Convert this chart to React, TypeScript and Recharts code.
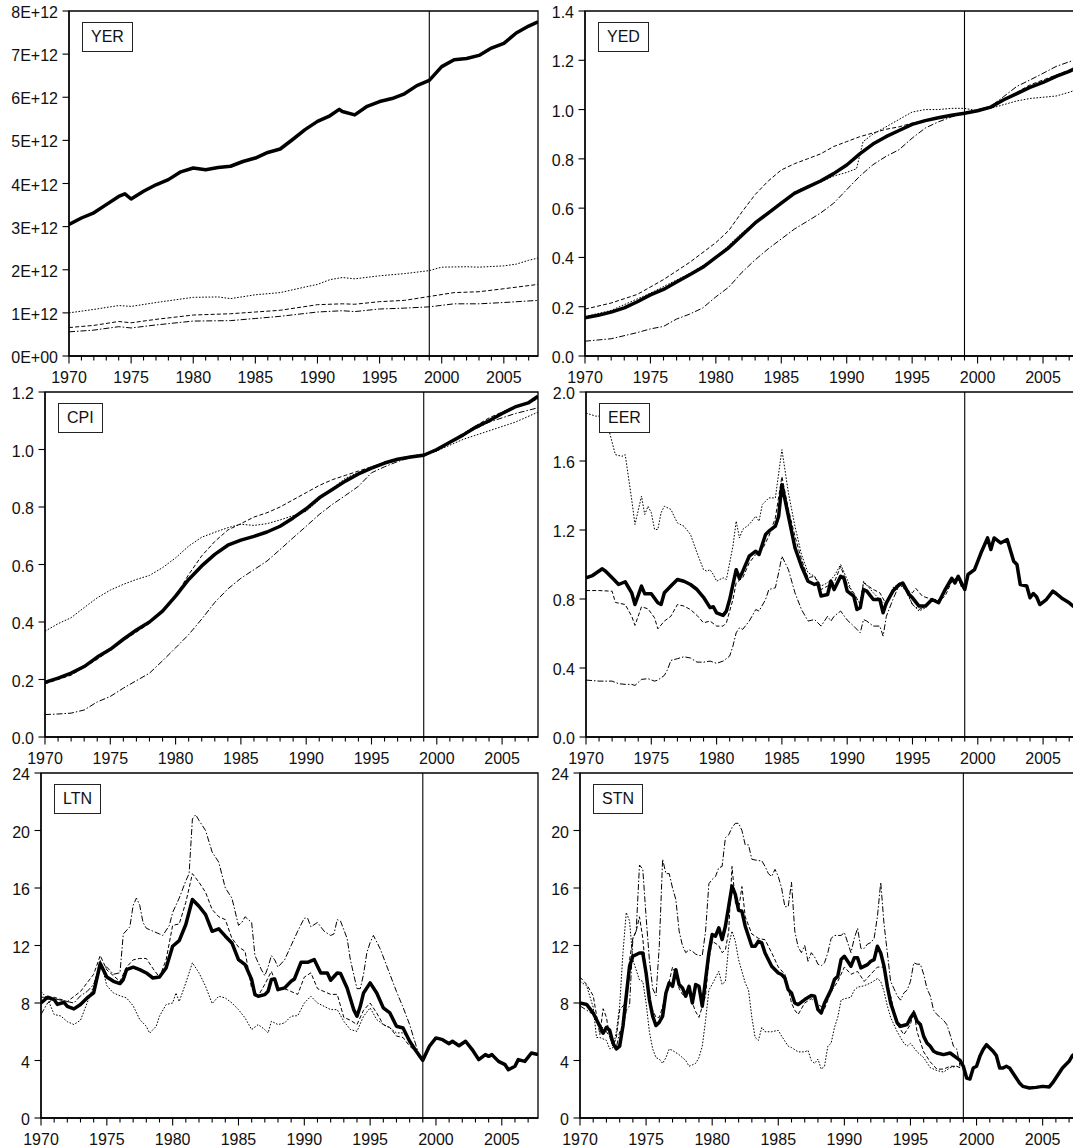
import React from "react";
import { LineChart, Line, XAxis, YAxis, ReferenceLine, ReferenceArea } from "recharts";

type Pt = [number, number];

const FONT = "'Liberation Sans', Arial, Helvetica, sans-serif";
const YEAR_TICKS = [
  1970, 1971, 1972, 1973, 1974, 1975, 1976, 1977, 1978, 1979, 1980, 1981, 1982, 1983, 1984, 1985, 1986, 1987, 1988,
  1989, 1990, 1991, 1992, 1993, 1994, 1995, 1996, 1997, 1998, 1999, 2000, 2001, 2002, 2003, 2004, 2005, 2006, 2007,
];
const X_START = 1970;
const X_END = 2007.75;
const BREAK_YEAR = 1999;

// ---------- YER (real GDP) ----------
const YER_TICKS = [0, 1e12, 2e12, 3e12, 4e12, 5e12, 6e12, 7e12, 8e12];
const YER_EA: Pt[] = [
  [1970, 3.05e12], [1971, 3.2e12], [1972, 3.32e12], [1973, 3.51e12], [1974, 3.7e12], [1974.5, 3.76e12], [1975, 3.64e12],
  [1976, 3.82e12], [1977, 3.97e12], [1978, 4.09e12], [1979, 4.27e12], [1980, 4.36e12], [1981, 4.32e12], [1982, 4.37e12],
  [1983, 4.4e12], [1984, 4.51e12], [1985, 4.59e12], [1986, 4.72e12], [1987, 4.8e12], [1988, 5.02e12], [1989, 5.25e12],
  [1990, 5.44e12], [1991, 5.57e12], [1991.75, 5.72e12], [1992, 5.67e12], [1993, 5.59e12], [1994, 5.79e12], [1995, 5.9e12],
  [1996, 5.97e12], [1997, 6.08e12], [1998, 6.27e12], [1999, 6.39e12], [2000, 6.71e12], [2001, 6.87e12], [2002, 6.9e12],
  [2003, 6.97e12], [2004, 7.14e12], [2005, 7.25e12], [2006, 7.49e12], [2007, 7.65e12], [2007.75, 7.75e12],
];
const YER_A: Pt[] = [
  [1970, 1.0e12], [1972, 1.08e12], [1974, 1.17e12], [1975, 1.15e12], [1977, 1.24e12], [1980, 1.36e12], [1982, 1.37e12],
  [1983, 1.33e12], [1985, 1.42e12], [1987, 1.47e12], [1989, 1.6e12], [1990, 1.66e12], [1991, 1.77e12], [1992, 1.82e12],
  [1993, 1.79e12], [1995, 1.86e12], [1997, 1.91e12], [1999, 1.98e12], [2000, 2.06e12], [2002, 2.07e12], [2003, 2.06e12],
  [2005, 2.09e12], [2006, 2.13e12], [2007, 2.22e12], [2007.75, 2.27e12],
];
const YER_B: Pt[] = [
  [1970, 0.66e12], [1972, 0.71e12], [1974, 0.8e12], [1975, 0.77e12], [1977, 0.85e12], [1980, 0.95e12], [1983, 0.98e12],
  [1985, 1.02e12], [1987, 1.06e12], [1990, 1.19e12], [1992, 1.21e12], [1993, 1.2e12], [1995, 1.26e12], [1997, 1.29e12],
  [1999, 1.38e12], [2001, 1.47e12], [2003, 1.49e12], [2005, 1.56e12], [2007.75, 1.66e12],
];
const YER_C: Pt[] = [
  [1970, 0.56e12], [1972, 0.6e12], [1974, 0.68e12], [1975, 0.65e12], [1977, 0.72e12], [1980, 0.81e12], [1983, 0.82e12],
  [1985, 0.87e12], [1987, 0.92e12], [1990, 1.02e12], [1992, 1.05e12], [1993, 1.03e12], [1995, 1.09e12], [1997, 1.11e12],
  [1999, 1.14e12], [2001, 1.21e12], [2003, 1.21e12], [2005, 1.24e12], [2007.75, 1.29e12],
];

// ---------- YED (GDP deflator) ----------
const YED_TICKS = [0, 0.2, 0.4, 0.6, 0.8, 1.0, 1.2, 1.4];
const YED_EA: Pt[] = [
  [1970, 0.155], [1971, 0.165], [1972, 0.178], [1973, 0.195], [1974, 0.22], [1975, 0.248], [1976, 0.27], [1977, 0.3],
  [1978, 0.33], [1979, 0.36], [1980, 0.4], [1981, 0.44], [1982, 0.49], [1983, 0.54], [1984, 0.58], [1985, 0.62],
  [1986, 0.66], [1987, 0.685], [1988, 0.71], [1989, 0.74], [1990, 0.775], [1991, 0.82], [1992, 0.86], [1993, 0.89],
  [1994, 0.915], [1995, 0.94], [1996, 0.955], [1997, 0.967], [1998, 0.977], [1999, 0.985], [2000, 0.995], [2001, 1.01],
  [2002, 1.04], [2003, 1.065], [2004, 1.09], [2005, 1.11], [2006, 1.135], [2007, 1.155], [2007.75, 1.175],
];
const YED_A: Pt[] = [
  [1970, 0.16], [1972, 0.185], [1975, 0.255], [1978, 0.335], [1980, 0.4], [1982, 0.5], [1984, 0.585], [1985, 0.625],
  [1986, 0.665], [1987, 0.69], [1988, 0.705], [1989, 0.73], [1990, 0.745], [1990.75, 0.76], [1991.25, 0.87], [1992, 0.9],
  [1993, 0.93], [1994, 0.96], [1995, 0.99], [1996, 1.0], [1997, 1.0], [1998, 1.005], [1999, 1.005], [2000, 0.995],
  [2001, 1.005], [2002, 1.02], [2003, 1.035], [2004, 1.045], [2005, 1.05], [2006, 1.055], [2007, 1.07], [2007.75, 1.085],
];
const YED_B: Pt[] = [
  [1970, 0.19], [1972, 0.215], [1974, 0.25], [1976, 0.31], [1978, 0.38], [1980, 0.46], [1981, 0.51], [1982, 0.585],
  [1983, 0.655], [1984, 0.71], [1985, 0.755], [1986, 0.78], [1987, 0.8], [1988, 0.82], [1989, 0.85], [1990, 0.87],
  [1991, 0.89], [1992, 0.905], [1993, 0.92], [1994, 0.93], [1995, 0.945], [1996, 0.955], [1997, 0.965], [1998, 0.975],
  [1999, 0.985], [2000, 0.995], [2001, 1.01], [2002, 1.04], [2003, 1.07], [2004, 1.1], [2005, 1.12], [2006, 1.14],
  [2007, 1.16], [2007.75, 1.18],
];
const YED_C: Pt[] = [
  [1970, 0.06], [1972, 0.07], [1974, 0.095], [1975, 0.11], [1976, 0.12], [1977, 0.15], [1978, 0.17], [1979, 0.195],
  [1980, 0.24], [1981, 0.28], [1982, 0.34], [1983, 0.39], [1984, 0.435], [1985, 0.475], [1986, 0.515], [1987, 0.547],
  [1988, 0.58], [1989, 0.62], [1990, 0.675], [1991, 0.73], [1992, 0.776], [1993, 0.81], [1994, 0.837], [1995, 0.884],
  [1996, 0.925], [1997, 0.95], [1998, 0.97], [1999, 0.983], [2000, 1.0], [2001, 1.013], [2002, 1.053], [2003, 1.094],
  [2004, 1.12], [2005, 1.147], [2006, 1.175], [2007.75, 1.208],
];

// ---------- CPI ----------
const CPI_TICKS = [0, 0.2, 0.4, 0.6, 0.8, 1.0, 1.2];
const CPI_EA: Pt[] = [
  [1970, 0.19], [1971, 0.205], [1972, 0.222], [1973, 0.245], [1974, 0.278], [1975, 0.305], [1976, 0.34], [1977, 0.372],
  [1978, 0.4], [1979, 0.438], [1980, 0.49], [1981, 0.548], [1982, 0.595], [1983, 0.635], [1984, 0.667], [1985, 0.685],
  [1986, 0.698], [1987, 0.713], [1988, 0.733], [1989, 0.762], [1990, 0.794], [1991, 0.832], [1992, 0.861], [1993, 0.89],
  [1994, 0.915], [1995, 0.935], [1996, 0.953], [1997, 0.966], [1998, 0.974], [1999, 0.98], [2000, 1.0], [2001, 1.025],
  [2002, 1.05], [2003, 1.078], [2004, 1.1], [2005, 1.125], [2006, 1.148], [2007, 1.162], [2007.75, 1.185],
];
const CPI_A: Pt[] = [
  [1970, 0.368], [1971, 0.394], [1972, 0.415], [1973, 0.45], [1974, 0.484], [1975, 0.511], [1976, 0.531], [1977, 0.548],
  [1978, 0.562], [1979, 0.589], [1980, 0.623], [1981, 0.664], [1982, 0.695], [1983, 0.712], [1984, 0.728], [1985, 0.74],
  [1986, 0.736], [1987, 0.742], [1988, 0.755], [1989, 0.77], [1990, 0.785], [1991, 0.825], [1992, 0.865], [1993, 0.9],
  [1994, 0.92], [1995, 0.935], [1996, 0.955], [1997, 0.968], [1998, 0.978], [1999, 0.985], [2000, 0.995], [2002, 1.035],
  [2004, 1.065], [2006, 1.095], [2007.75, 1.13],
];
const CPI_B: Pt[] = [
  [1970, 0.185], [1972, 0.215], [1974, 0.27], [1976, 0.335], [1978, 0.395], [1980, 0.49], [1981, 0.565], [1982, 0.63],
  [1983, 0.68], [1984, 0.72], [1985, 0.742], [1986, 0.765], [1987, 0.78], [1988, 0.8], [1989, 0.825], [1990, 0.85],
  [1991, 0.875], [1992, 0.895], [1993, 0.91], [1994, 0.925], [1995, 0.94], [1996, 0.955], [1997, 0.965], [1998, 0.975],
  [1999, 0.98], [2000, 0.995], [2002, 1.055], [2004, 1.11], [2006, 1.15], [2007.75, 1.175],
];
const CPI_C: Pt[] = [
  [1970, 0.078], [1971, 0.08], [1972, 0.083], [1973, 0.094], [1974, 0.122], [1975, 0.141], [1976, 0.17], [1977, 0.196],
  [1978, 0.222], [1979, 0.265], [1980, 0.31], [1981, 0.356], [1982, 0.41], [1983, 0.468], [1984, 0.515], [1985, 0.552],
  [1986, 0.582], [1987, 0.612], [1988, 0.652], [1989, 0.693], [1990, 0.733], [1991, 0.774], [1992, 0.809], [1993, 0.84],
  [1994, 0.872], [1995, 0.919], [1996, 0.94], [1997, 0.958], [1998, 0.972], [1999, 0.98], [2000, 0.995], [2002, 1.05],
  [2004, 1.095], [2006, 1.125], [2007.75, 1.145],
];

// ---------- EER (effective exchange rate) ----------
const EER_TICKS = [0, 0.4, 0.8, 1.2, 1.6, 2.0];
const EER_EA: Pt[] = [
  [1970, 0.923], [1970.5, 0.936], [1971.25, 0.975], [1971.5, 0.961], [1972, 0.923], [1972.5, 0.884], [1973, 0.9],
  [1973.5, 0.836], [1973.75, 0.768], [1974.25, 0.875], [1974.5, 0.83], [1975, 0.83], [1975.5, 0.778], [1975.75, 0.768],
  [1976, 0.836], [1976.5, 0.875], [1977, 0.913], [1977.5, 0.903], [1978, 0.884], [1978.5, 0.855], [1979, 0.81],
  [1979.5, 0.75], [1979.75, 0.755], [1980, 0.72], [1980.5, 0.705], [1980.75, 0.73], [1981, 0.797], [1981.5, 0.97],
  [1981.75, 0.92], [1982, 0.96], [1982.5, 1.048], [1983, 1.077], [1983.25, 1.058], [1983.75, 1.174], [1984, 1.193],
  [1984.5, 1.222], [1984.75, 1.28], [1985, 1.463], [1985.5, 1.28], [1986, 1.097], [1986.5, 0.99], [1987, 0.903],
  [1987.5, 0.884], [1987.75, 0.893], [1988, 0.817], [1988.5, 0.826], [1988.75, 0.903], [1989, 0.855], [1989.5, 0.932],
  [1989.75, 0.92], [1990, 0.846], [1990.5, 0.817], [1990.75, 0.739], [1991, 0.749], [1991.25, 0.855], [1991.5, 0.846],
  [1992, 0.797], [1992.5, 0.797], [1992.75, 0.72], [1993, 0.778], [1993.5, 0.846], [1994, 0.884], [1994.25, 0.893],
  [1994.75, 0.826], [1995, 0.807], [1995.5, 0.759], [1996, 0.759], [1996.5, 0.797], [1997, 0.778], [1997.5, 0.855],
  [1998, 0.92], [1998.25, 0.893], [1998.5, 0.932], [1999, 0.855], [1999.25, 0.942], [1999.75, 0.97], [2000.25, 1.068],
  [2000.75, 1.154], [2001, 1.087], [2001.25, 1.154], [2001.75, 1.125], [2002.25, 1.145], [2002.75, 1.019], [2003, 1.0],
  [2003.25, 0.884], [2003.75, 0.875], [2004, 0.807], [2004.25, 0.832], [2004.5, 0.813], [2004.75, 0.768],
  [2005.25, 0.797], [2005.75, 0.846], [2006, 0.832], [2006.5, 0.801], [2007, 0.778], [2007.75, 0.73],
];
const EER_A: Pt[] = [
  [1970, 1.878], [1970.75, 1.86], [1971.25, 1.86], [1971.75, 1.78], [1972.25, 1.637], [1972.75, 1.627], [1973, 1.637],
  [1973.5, 1.376], [1973.75, 1.232], [1974.25, 1.396], [1974.5, 1.29], [1974.75, 1.338], [1975, 1.3], [1975.25, 1.203],
  [1975.5, 1.203], [1975.75, 1.3], [1976, 1.338], [1976.5, 1.319], [1977, 1.241], [1977.5, 1.222], [1978, 1.174],
  [1978.5, 1.068], [1979, 0.97], [1979.25, 0.961], [1979.5, 0.97], [1979.75, 0.942], [1980, 0.903], [1980.5, 0.923],
  [1980.75, 0.913], [1981.25, 1.106], [1981.5, 1.251], [1981.75, 1.154], [1982, 1.203], [1982.5, 1.232], [1983, 1.28],
  [1983.25, 1.251], [1983.5, 1.348], [1984, 1.386], [1984.5, 1.386], [1985, 1.666], [1985.5, 1.415], [1986, 1.222],
  [1986.5, 1.058], [1987, 0.952], [1987.5, 0.932], [1988, 0.875], [1988.5, 0.894], [1989, 0.932], [1989.5, 1.0],
  [1990, 0.913], [1990.5, 0.817], [1991, 0.778], [1991.25, 0.903], [1992, 0.836], [1992.5, 0.797], [1993, 0.759],
  [1993.5, 0.865], [1994, 0.893], [1994.5, 0.855], [1995, 0.768], [1995.5, 0.73], [1996, 0.749], [1996.5, 0.797],
  [1997, 0.778], [1997.5, 0.84], [1998, 0.9], [1998.5, 0.92], [1998.75, 0.88],
];
const EER_B: Pt[] = [
  [1970, 0.849], [1971, 0.849], [1972, 0.845], [1972.25, 0.78], [1973, 0.768], [1973.5, 0.7], [1973.75, 0.647],
  [1974.25, 0.755], [1974.75, 0.743], [1975.25, 0.691], [1975.5, 0.627], [1976, 0.672], [1976.5, 0.7], [1977, 0.768],
  [1977.5, 0.759], [1978, 0.739], [1978.5, 0.705], [1979, 0.662], [1979.5, 0.672], [1980, 0.643], [1980.5, 0.643],
  [1980.75, 0.662], [1981.25, 0.797], [1981.5, 0.894], [1982, 0.923], [1982.5, 1.01], [1983, 1.058], [1983.5, 1.087],
  [1984, 1.164], [1984.5, 1.27], [1985, 1.51], [1985.5, 1.319], [1986, 1.164], [1986.5, 1.029], [1987, 0.923],
  [1987.5, 0.932], [1988, 0.855], [1988.5, 0.875], [1989, 0.894], [1989.5, 0.99], [1990, 0.884], [1990.5, 0.836],
  [1991, 0.768], [1991.25, 0.894], [1992, 0.855], [1992.5, 0.836], [1993, 0.768], [1993.5, 0.855], [1994, 0.894],
  [1994.5, 0.855], [1995, 0.836], [1995.25, 0.862], [1995.75, 0.817], [1996.5, 0.797], [1997, 0.788], [1997.5, 0.817],
  [1998, 0.9], [1998.5, 0.925], [1998.75, 0.87],
];
const EER_C: Pt[] = [
  [1970, 0.33], [1971, 0.324], [1972, 0.324], [1972.5, 0.309], [1973, 0.305], [1973.5, 0.305], [1973.75, 0.299],
  [1974.25, 0.334], [1974.75, 0.338], [1975.25, 0.324], [1975.5, 0.33], [1976, 0.357], [1976.25, 0.392], [1976.5, 0.444],
  [1977, 0.454], [1977.5, 0.465], [1978, 0.458], [1978.5, 0.434], [1979, 0.434], [1979.5, 0.44], [1980, 0.427],
  [1980.5, 0.44], [1981, 0.469], [1981.25, 0.527], [1981.5, 0.604], [1981.75, 0.633], [1982, 0.624], [1982.5, 0.672],
  [1983, 0.739], [1983.25, 0.73], [1983.75, 0.797], [1984, 0.855], [1984.5, 0.865], [1984.75, 0.952], [1985, 1.048],
  [1985.5, 0.97], [1986, 0.836], [1986.5, 0.739], [1987, 0.672], [1987.5, 0.681], [1988, 0.643], [1988.5, 0.7],
  [1988.75, 0.672], [1989, 0.7], [1989.5, 0.73], [1990, 0.678], [1990.5, 0.643], [1991, 0.604], [1991.25, 0.681],
  [1991.5, 0.672], [1992, 0.643], [1992.5, 0.643], [1992.75, 0.585], [1993, 0.7], [1993.5, 0.797], [1994, 0.884],
  [1994.5, 0.846], [1995, 0.768], [1995.5, 0.739], [1996, 0.759], [1996.5, 0.797], [1997, 0.797], [1997.5, 0.84],
  [1998, 0.91], [1998.5, 0.92], [1998.75, 0.87],
];

// ---------- LTN (long-term interest rate) ----------
const RATE_TICKS = [0, 4, 8, 12, 16, 20, 24];
const LTN_EA: Pt[] = [
  [1970, 8.0], [1970.5, 8.4], [1971, 8.24], [1971.25, 7.9], [1971.75, 8.05], [1972, 7.77], [1972.5, 7.59], [1973, 7.9],
  [1973.5, 8.35], [1974, 8.7], [1974.5, 10.74], [1975, 9.81], [1975.5, 9.51], [1976, 9.35], [1976.25, 9.63],
  [1976.5, 10.32], [1977, 10.49], [1977.5, 10.32], [1978, 10.09], [1978.5, 9.74], [1979, 9.81], [1979.5, 10.44],
  [1980, 11.95], [1980.5, 12.34], [1981, 13.46], [1981.5, 15.2], [1982, 14.73], [1982.5, 14.15], [1983, 12.99],
  [1983.5, 13.16], [1984, 12.65], [1984.5, 12.18], [1985, 11.02], [1985.5, 10.67], [1986, 9.63], [1986.25, 8.58],
  [1986.5, 8.47], [1987, 8.58], [1987.25, 8.82], [1987.5, 9.63], [1987.75, 9.67], [1988, 8.93], [1988.5, 9.05],
  [1989, 9.51], [1989.25, 9.67], [1989.75, 10.83], [1990.25, 10.83], [1990.75, 11.02], [1991, 10.56], [1991.25, 10.09],
  [1991.75, 10.09], [1992, 9.58], [1992.5, 10.09], [1992.75, 10.05], [1993.25, 9.05], [1993.75, 7.54], [1994, 7.08],
  [1994.25, 7.77], [1994.5, 8.7], [1995, 9.4], [1995.5, 8.7], [1996, 7.66], [1996.5, 7.31], [1997, 6.38], [1997.5, 6.26],
  [1998, 5.34], [1998.5, 4.64], [1999, 4.01], [1999.5, 4.99], [2000, 5.57], [2000.5, 5.45], [2001, 5.17], [2001.25, 5.34],
  [2001.75, 5.03], [2002.25, 5.34], [2002.75, 4.76], [2003.25, 4.06], [2003.75, 4.41], [2004, 4.29], [2004.25, 4.41],
  [2004.75, 3.94], [2005.25, 3.71], [2005.5, 3.36], [2006, 3.6], [2006.25, 4.06], [2006.75, 3.94], [2007.25, 4.52],
  [2007.75, 4.41],
];
const LTN_A: Pt[] = [
  [1970, 8.8], [1970.5, 8.3], [1971, 7.2], [1971.5, 7.1], [1972, 6.7], [1972.5, 6.5], [1973, 6.8], [1973.5, 8.0],
  [1974, 9.2], [1974.5, 11.0], [1975, 9.2], [1975.5, 8.7], [1976, 8.5], [1976.5, 8.35], [1977, 7.8], [1977.5, 6.85],
  [1978, 6.38], [1978.25, 5.9], [1978.75, 6.38], [1979, 7.08], [1979.5, 7.89], [1980, 8.0], [1980.25, 8.7], [1980.5, 8.1],
  [1981, 9.4], [1981.5, 10.8], [1982, 10.1], [1982.5, 9.16], [1983, 7.96], [1983.5, 8.47], [1984, 8.35], [1984.5, 8.0],
  [1985, 7.54], [1985.5, 6.96], [1986, 6.15], [1986.5, 6.5], [1987, 6.15], [1987.25, 5.92], [1987.5, 6.73], [1988, 6.5],
  [1988.5, 6.61], [1989, 7.08], [1989.5, 7.12], [1990, 8.0], [1990.5, 8.47], [1991, 8.0], [1991.5, 7.77], [1992, 7.54],
  [1992.5, 7.54], [1993, 6.73], [1993.5, 6.15], [1994, 6.03], [1994.5, 7.08], [1995, 7.66], [1995.5, 6.85], [1996, 6.5],
  [1996.5, 6.26], [1997, 5.92], [1997.5, 5.92], [1998, 5.45], [1998.5, 4.64], [1998.75, 4.18],
];
const LTN_B: Pt[] = [
  [1970, 8.4], [1971, 8.4], [1972, 8.1], [1973, 8.8], [1974, 10.0], [1974.5, 11.3], [1975, 10.3], [1976, 9.5],
  [1976.5, 10.5], [1977, 11.0], [1977.5, 11.1], [1978, 11.1], [1978.5, 10.4], [1979, 9.8], [1979.5, 11.0], [1980, 13.4],
  [1980.5, 13.5], [1981, 15.0], [1981.5, 17.0], [1982, 16.4], [1982.5, 15.7], [1983, 14.5], [1983.5, 14.0], [1984, 13.8],
  [1984.5, 12.5], [1985, 11.9], [1985.5, 11.6], [1986, 9.0], [1986.5, 8.5], [1987, 9.3], [1987.5, 10.2], [1988, 9.0],
  [1988.5, 9.0], [1989, 8.8], [1989.5, 8.6], [1990, 9.8], [1990.5, 10.1], [1991, 9.0], [1991.5, 8.8], [1992, 8.6],
  [1992.5, 8.6], [1993, 7.0], [1993.5, 6.8], [1994, 6.5], [1994.5, 7.5], [1995, 8.0], [1995.5, 7.3], [1996, 6.5],
  [1996.5, 6.3], [1997, 5.7], [1997.5, 5.6], [1998, 5.0], [1998.5, 4.6], [1998.75, 4.2],
];
const LTN_C: Pt[] = [
  [1970, 7.2], [1970.5, 8.0], [1971, 8.3], [1972, 8.1], [1972.5, 8.0], [1973, 8.5], [1973.5, 8.8], [1974, 9.3],
  [1974.5, 10.5], [1975, 10.5], [1975.5, 10.0], [1976, 10.1], [1976.25, 12.8], [1976.75, 13.3], [1977, 14.8],
  [1977.25, 15.3], [1977.5, 14.8], [1977.75, 13.6], [1978, 13.2], [1978.5, 13.0], [1979, 12.8], [1979.25, 12.7],
  [1979.75, 13.4], [1980, 14.3], [1980.5, 15.3], [1981, 16.5], [1981.25, 17.0], [1981.5, 20.8], [1981.75, 21.1],
  [1982, 20.7], [1982.5, 20.0], [1983, 18.5], [1983.5, 17.8], [1984, 16.0], [1984.5, 15.3], [1985, 13.4], [1985.25, 13.6],
  [1985.5, 14.0], [1986, 13.6], [1986.25, 11.3], [1986.75, 10.3], [1987, 9.9], [1987.25, 10.5], [1987.5, 11.3],
  [1987.75, 11.0], [1988, 10.5], [1988.5, 11.0], [1989, 12.0], [1989.5, 13.0], [1990, 13.9], [1990.25, 13.9],
  [1990.5, 13.3], [1991, 13.6], [1991.5, 13.0], [1992, 12.7], [1992.25, 12.8], [1992.5, 13.8], [1992.75, 13.7],
  [1993.25, 12.5], [1993.5, 11.0], [1994, 9.0], [1994.25, 9.0], [1994.5, 10.0], [1994.75, 11.5], [1995, 12.2],
  [1995.25, 12.7], [1995.75, 11.8], [1996, 11.2], [1996.5, 10.0], [1997, 8.8], [1997.5, 7.7], [1998, 6.5], [1998.5, 5.0],
  [1998.75, 4.3],
];

// ---------- STN (short-term interest rate) ----------
const STN_EA: Pt[] = [
  [1970, 8.0], [1970.5, 7.9], [1971, 7.3], [1971.5, 6.38], [1971.75, 5.9], [1972, 6.3], [1972.25, 6.1], [1972.5, 5.2],
  [1972.75, 4.8], [1973, 5.0], [1973.25, 6.4], [1973.5, 8.5], [1973.75, 10.56], [1974, 11.25], [1974.5, 11.48],
  [1974.75, 11.48], [1975, 10.09], [1975.25, 8.24], [1975.5, 7.08], [1975.75, 6.43], [1976, 6.66], [1976.25, 7.08],
  [1976.5, 8.7], [1976.75, 9.4], [1977, 9.16], [1977.25, 10.32], [1977.5, 9.28], [1977.75, 9.05], [1978, 8.47],
  [1978.25, 9.16], [1978.5, 8.0], [1978.75, 9.28], [1979, 9.16], [1979.25, 7.77], [1979.5, 9.63], [1979.75, 11.48],
  [1980, 12.76], [1980.25, 12.65], [1980.5, 13.23], [1980.75, 12.41], [1981, 13.34], [1981.25, 14.73], [1981.5, 16.13],
  [1981.75, 15.55], [1982, 14.45], [1982.25, 14.38], [1982.5, 13.34], [1983, 11.95], [1983.25, 11.95], [1983.5, 12.3],
  [1983.75, 12.18], [1984, 11.48], [1984.5, 10.56], [1985, 10.09], [1985.25, 9.98], [1985.5, 9.74], [1985.75, 8.93],
  [1986, 8.7], [1986.25, 8.0], [1986.5, 7.89], [1987, 8.24], [1987.5, 8.52], [1987.75, 8.47], [1988, 7.54],
  [1988.25, 7.31], [1988.5, 8.0], [1989, 8.93], [1989.25, 9.63], [1989.5, 9.86], [1989.75, 11.02], [1990, 11.25],
  [1990.5, 10.56], [1990.75, 11.14], [1991, 11.14], [1991.25, 10.44], [1991.75, 10.67], [1992, 10.9], [1992.25, 11.02],
  [1992.5, 11.95], [1992.75, 11.48], [1993, 10.56], [1993.25, 9.16], [1993.5, 8.0], [1994, 6.61], [1994.25, 6.38],
  [1994.75, 6.5], [1995, 6.96], [1995.25, 7.31], [1995.5, 6.73], [1995.75, 6.5], [1996, 5.68], [1996.25, 5.22],
  [1996.5, 4.99], [1996.75, 4.64], [1997, 4.52], [1997.5, 4.41], [1998, 4.52], [1998.5, 4.18], [1998.75, 4.01],
  [1999, 3.6], [1999.25, 2.78], [1999.5, 2.71], [1999.75, 3.48], [2000, 3.6], [2000.25, 4.29], [2000.5, 4.76],
  [2000.75, 5.1], [2001, 4.87], [2001.25, 4.64], [2001.5, 4.34], [2001.75, 3.48], [2002, 3.48], [2002.25, 3.6],
  [2002.5, 3.48], [2002.75, 3.13], [2003, 2.78], [2003.25, 2.44], [2003.5, 2.2], [2004, 2.09], [2004.5, 2.13],
  [2005, 2.2], [2005.5, 2.16], [2005.75, 2.44], [2006, 2.78], [2006.25, 3.13], [2006.5, 3.48], [2007, 3.94],
  [2007.25, 4.34], [2007.5, 4.5], [2007.75, 4.7],
];
const STN_A: Pt[] = [
  [1970, 9.5], [1970.5, 9.2], [1971, 7.7], [1971.25, 5.6], [1971.5, 5.6], [1972, 5.4], [1972.25, 4.8], [1972.5, 4.9],
  [1972.75, 6.0], [1973, 7.8], [1973.25, 11.5], [1973.5, 14.3], [1973.75, 13.7], [1974, 11.0], [1974.5, 9.6],
  [1974.75, 9.5], [1975, 8.0], [1975.25, 6.0], [1975.5, 4.8], [1975.75, 4.2], [1976, 4.1], [1976.25, 3.8], [1976.5, 4.2],
  [1976.75, 4.8], [1977, 4.7], [1977.5, 4.4], [1977.75, 4.2], [1978, 4.0], [1978.25, 3.6], [1978.5, 3.7], [1978.75, 3.8],
  [1979, 4.2], [1979.25, 5.0], [1979.5, 6.8], [1979.75, 8.9], [1980, 9.3], [1980.5, 10.2], [1980.75, 9.3], [1981, 9.5],
  [1981.25, 12.0], [1981.5, 13.0], [1981.75, 12.3], [1982, 11.0], [1982.5, 9.4], [1982.75, 8.9], [1983, 7.0],
  [1983.25, 5.6], [1983.5, 5.4], [1983.75, 6.3], [1984, 6.0], [1984.5, 6.0], [1985, 6.1], [1985.25, 5.7], [1985.75, 5.0],
  [1986, 4.9], [1986.5, 4.6], [1987, 4.6], [1987.25, 4.7], [1987.5, 4.0], [1987.75, 3.8], [1988, 4.1], [1988.25, 3.4],
  [1988.5, 3.6], [1988.75, 5.0], [1989, 5.2], [1989.25, 6.3], [1989.5, 7.0], [1989.75, 8.2], [1990, 8.3], [1990.5, 8.4],
  [1990.75, 8.9], [1991, 9.1], [1991.5, 9.2], [1992, 9.4], [1992.5, 9.7], [1992.75, 9.5], [1993, 8.8], [1993.25, 7.8],
  [1993.5, 7.0], [1994, 6.0], [1994.5, 5.2], [1994.75, 5.0], [1995, 5.2], [1995.5, 4.6], [1996, 4.2], [1996.5, 3.5],
  [1997, 3.3], [1997.5, 3.2], [1998, 3.5], [1998.5, 3.6], [1998.75, 3.5],
];
const STN_B: Pt[] = [
  [1970, 9.8], [1970.5, 9.3], [1971, 8.5], [1971.5, 5.8], [1971.75, 7.6], [1972, 7.0], [1972.25, 5.6], [1972.5, 5.0],
  [1972.75, 5.6], [1973, 7.5], [1973.25, 7.8], [1973.5, 8.0], [1973.75, 11.0], [1974, 12.5], [1974.25, 13.0],
  [1974.5, 14.0], [1974.75, 12.5], [1975, 10.0], [1975.25, 8.2], [1975.5, 7.5], [1975.75, 7.0], [1976, 7.0],
  [1976.5, 8.5], [1976.75, 9.5], [1977, 10.5], [1977.25, 10.0], [1977.5, 9.0], [1977.75, 8.6], [1978, 8.5],
  [1978.25, 9.0], [1978.5, 8.0], [1978.75, 7.4], [1979, 7.0], [1979.5, 8.5], [1979.75, 11.0], [1980, 12.3], [1980.5, 12.0],
  [1980.75, 11.5], [1981, 11.7], [1981.25, 13.0], [1981.5, 17.5], [1981.75, 15.0], [1982, 14.5], [1982.25, 16.1],
  [1982.5, 14.0], [1983, 12.8], [1983.5, 12.5], [1984, 12.4], [1984.5, 11.5], [1985, 10.5], [1985.5, 10.0], [1986, 8.0],
  [1986.25, 7.5], [1986.5, 7.2], [1987, 8.0], [1987.5, 8.3], [1988, 7.9], [1988.5, 7.6], [1989, 8.8], [1989.5, 9.5],
  [1990, 10.5], [1990.5, 10.0], [1991, 10.2], [1991.5, 9.5], [1992, 10.0], [1992.5, 10.5], [1993, 10.5], [1993.25, 9.0],
  [1993.5, 8.5], [1994, 6.5], [1994.5, 5.8], [1995, 6.5], [1995.25, 7.5], [1995.5, 6.0], [1996, 4.6], [1996.5, 3.9],
  [1997, 3.4], [1997.5, 3.4], [1998, 3.6], [1998.5, 3.6], [1998.75, 3.5],
];
const STN_C: Pt[] = [
  [1970, 7.8], [1971, 7.2], [1971.5, 6.5], [1972, 6.0], [1972.5, 5.3], [1972.75, 4.9], [1973, 6.0], [1973.25, 6.1],
  [1973.5, 7.5], [1973.75, 7.8], [1974, 12.5], [1974.25, 13.0], [1974.5, 17.6], [1974.75, 17.3], [1975, 14.0],
  [1975.25, 11.0], [1975.5, 9.0], [1975.75, 8.5], [1976, 12.0], [1976.25, 18.0], [1976.5, 17.0], [1976.75, 17.0],
  [1977, 16.0], [1977.25, 15.2], [1977.5, 13.0], [1977.75, 12.0], [1978, 11.5], [1978.25, 11.7], [1978.5, 11.6],
  [1978.75, 11.4], [1979, 11.3], [1979.25, 11.3], [1979.5, 13.0], [1979.75, 16.3], [1980, 16.6], [1980.25, 16.8],
  [1980.5, 17.4], [1980.75, 17.5], [1981, 19.5], [1981.25, 19.7], [1981.5, 20.2], [1981.75, 20.5], [1982, 20.5],
  [1982.25, 20.0], [1982.5, 19.0], [1982.75, 19.0], [1983, 18.0], [1983.5, 17.9], [1983.75, 17.9], [1984, 17.5],
  [1984.25, 17.0], [1984.5, 16.8], [1984.75, 17.3], [1985, 16.8], [1985.25, 16.0], [1985.5, 14.7], [1985.75, 14.7],
  [1986, 16.4], [1986.25, 13.0], [1986.5, 11.9], [1986.75, 11.5], [1987, 12.0], [1987.25, 10.9], [1987.5, 11.5],
  [1987.75, 11.2], [1988, 10.7], [1988.25, 10.6], [1988.5, 10.8], [1988.75, 11.5], [1989, 12.5], [1989.25, 12.7],
  [1989.75, 12.7], [1990, 12.9], [1990.25, 12.2], [1990.5, 11.5], [1990.75, 12.5], [1991, 13.2], [1991.25, 11.8],
  [1991.5, 11.8], [1991.75, 12.1], [1992, 12.2], [1992.25, 12.5], [1992.5, 14.0], [1992.75, 16.4], [1993, 13.5],
  [1993.25, 11.5], [1993.5, 9.5], [1993.75, 9.0], [1994, 8.5], [1994.25, 8.2], [1994.5, 8.7], [1994.75, 8.9],
  [1995, 9.5], [1995.25, 10.8], [1995.5, 10.7], [1995.75, 10.7], [1996, 10.0], [1996.25, 9.0], [1996.5, 8.5],
  [1996.75, 7.5], [1997, 7.2], [1997.5, 6.8], [1997.75, 6.5], [1998, 5.8], [1998.25, 5.0], [1998.5, 4.8], [1998.75, 3.6],
];

// ---------- rendering ----------
type Kind = "agg" | "dot" | "dash" | "dashdot";
const STROKE: Record<Kind, { w: number; dash?: string }> = {
  agg: { w: 3.5 },
  dot: { w: 1, dash: "1.6 1.6" },
  dash: { w: 1, dash: "4 2.2" },
  dashdot: { w: 1, dash: "6 2 1.5 2" },
};

const toData = (pts: Pt[]) => pts.map(([x, y]) => ({ x, y }));

const XTick = (props: any) => {
  const { x, y, payload } = props;
  const v = payload.value as number;
  const major = v % 5 === 0;
  return (
    <g>
      <line x1={x} x2={x} y1={y} y2={y + (major ? 7.5 : 4.5)} stroke="#000" strokeWidth={1.1} />
      {major && (
        <text x={x} y={y + 27} textAnchor="middle" fontSize={16} fontFamily={FONT} fill="#111">
          {v}
        </text>
      )}
    </g>
  );
};

const makeYTick = (fmt: (v: number) => string) => (props: any) => {
  const { x, y, payload } = props;
  return (
    <g>
      <line x1={x - 6.5} x2={x} y1={y} y2={y} stroke="#000" strokeWidth={1.1} />
      <text x={x - 11} y={y + 7} textAnchor="end" fontSize={16} fontFamily={FONT} fill="#111">
        {fmt(payload.value)}
      </text>
    </g>
  );
};

type Series = { pts: Pt[]; kind: Kind; name: string };
type PanelProps = {
  title: string;
  left: number;
  plotLeft: number;
  plotTop: number;
  plotRight: number;
  ticks: number[];
  fmt: (v: number) => string;
  series: Series[];
};

const PLOT_H = 345;
const TOP_M = 10;
const XAXIS_H = 36;

function Panel({ title, left, plotLeft, plotTop, plotRight, ticks, fmt, series }: PanelProps) {
  const yW = plotLeft - left;
  const width = plotRight + 10 - left;
  const height = TOP_M + PLOT_H + XAXIS_H;
  const yMin = ticks[0];
  const yMax = ticks[ticks.length - 1];
  const YTick = makeYTick(fmt);
  return (
    <div style={{ position: "absolute", left, top: plotTop - TOP_M, width, height }}>
      <LineChart width={width} height={height} margin={{ top: TOP_M, right: 10, bottom: 0, left: 0 }}>
        <XAxis
          dataKey="x"
          type="number"
          domain={[X_START, X_END]}
          allowDataOverflow
          ticks={YEAR_TICKS}
          interval={0}
          tick={<XTick />}
          tickLine={false}
          tickSize={0}
          tickMargin={0}
          height={XAXIS_H}
          axisLine={{ stroke: "#000", strokeWidth: 1.3 }}
        />
        <YAxis
          type="number"
          domain={[yMin, yMax]}
          allowDataOverflow
          ticks={ticks}
          interval={0}
          tick={<YTick />}
          tickLine={false}
          tickSize={0}
          tickMargin={0}
          width={yW}
          axisLine={{ stroke: "#000", strokeWidth: 1.3 }}
        />
        <ReferenceArea
          x1={X_START}
          x2={X_END}
          y1={yMin}
          y2={yMax}
          fill="none"
          fillOpacity={0}
          stroke="#000"
          strokeWidth={1.3}
        />
        {series.map((s) => (
          <Line
            key={s.name}
            data={toData(s.pts)}
            dataKey="y"
            name={s.name}
            type="linear"
            dot={false}
            activeDot={false}
            stroke="#000"
            strokeWidth={STROKE[s.kind].w}
            strokeDasharray={STROKE[s.kind].dash}
            strokeLinejoin="round"
            isAnimationActive={false}
          />
        ))}
        <ReferenceLine x={BREAK_YEAR} stroke="#000" strokeWidth={1.1} />
      </LineChart>
      <div
        style={{
          position: "absolute",
          left: yW + 13,
          top: TOP_M + 11,
          border: "1.3px solid #222",
          padding: "0 8px",
          height: 27.5,
          lineHeight: "27.5px",
          fontSize: 16,
          fontFamily: FONT,
          color: "#111",
          background: "#fff",
          whiteSpace: "nowrap",
        }}
      >
        {title}
      </div>
    </div>
  );
}

const fmtE = (v: number) => (v === 0 ? "0E+00" : `${Math.round(v / 1e12)}E+12`);
const fmt1 = (v: number) => v.toFixed(1);
const fmt0 = (v: number) => v.toFixed(0);

export default function App() {
  return (
    <div
      style={{
        position: "absolute",
        left: 0,
        top: 0,
        width: 1073,
        height: 1148,
        overflow: "hidden",
        background: "#fff",
      }}
    >
      <Panel
        title="YER"
        left={0}
        plotLeft={69}
        plotTop={11}
        plotRight={538}
        ticks={YER_TICKS}
        fmt={fmtE}
        series={[
          { pts: YER_A, kind: "dot", name: "a" },
          { pts: YER_B, kind: "dash", name: "b" },
          { pts: YER_C, kind: "dashdot", name: "c" },
          { pts: YER_EA, kind: "agg", name: "ea" },
        ]}
      />
      <Panel
        title="YED"
        left={545}
        plotLeft={585}
        plotTop={11}
        plotRight={1079}
        ticks={YED_TICKS}
        fmt={fmt1}
        series={[
          { pts: YED_A, kind: "dot", name: "a" },
          { pts: YED_B, kind: "dash", name: "b" },
          { pts: YED_C, kind: "dashdot", name: "c" },
          { pts: YED_EA, kind: "agg", name: "ea" },
        ]}
      />
      <Panel
        title="CPI"
        left={0}
        plotLeft={45}
        plotTop={392}
        plotRight={538}
        ticks={CPI_TICKS}
        fmt={fmt1}
        series={[
          { pts: CPI_A, kind: "dot", name: "a" },
          { pts: CPI_B, kind: "dash", name: "b" },
          { pts: CPI_C, kind: "dashdot", name: "c" },
          { pts: CPI_EA, kind: "agg", name: "ea" },
        ]}
      />
      <Panel
        title="EER"
        left={545}
        plotLeft={586}
        plotTop={392}
        plotRight={1079}
        ticks={EER_TICKS}
        fmt={fmt1}
        series={[
          { pts: EER_A, kind: "dot", name: "a" },
          { pts: EER_B, kind: "dash", name: "b" },
          { pts: EER_C, kind: "dashdot", name: "c" },
          { pts: EER_EA, kind: "agg", name: "ea" },
        ]}
      />
      <Panel
        title="LTN"
        left={0}
        plotLeft={41}
        plotTop={773}
        plotRight={538}
        ticks={RATE_TICKS}
        fmt={fmt0}
        series={[
          { pts: LTN_A, kind: "dot", name: "a" },
          { pts: LTN_B, kind: "dash", name: "b" },
          { pts: LTN_C, kind: "dashdot", name: "c" },
          { pts: LTN_EA, kind: "agg", name: "ea" },
        ]}
      />
      <Panel
        title="STN"
        left={545}
        plotLeft={580}
        plotTop={773}
        plotRight={1079}
        ticks={RATE_TICKS}
        fmt={fmt0}
        series={[
          { pts: STN_A, kind: "dot", name: "a" },
          { pts: STN_B, kind: "dash", name: "b" },
          { pts: STN_C, kind: "dashdot", name: "c" },
          { pts: STN_EA, kind: "agg", name: "ea" },
        ]}
      />
    </div>
  );
}
